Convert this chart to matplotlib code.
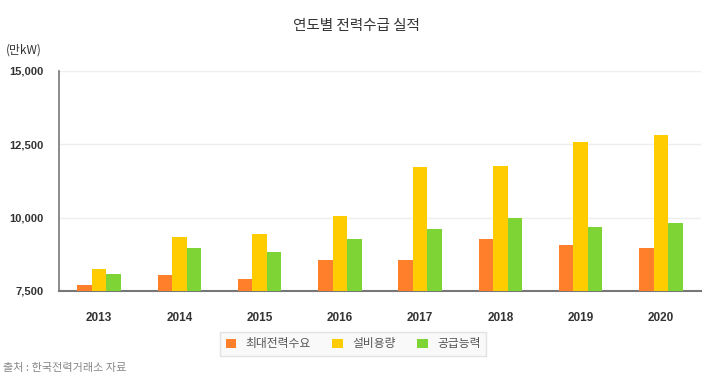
import matplotlib
matplotlib.use("Agg")
from matplotlib import pyplot as plt
from matplotlib.patches import Patch
import numpy as np

plt.rcParams['font.family'] = ['Noto Sans CJK KR', 'DejaVu Sans']

# Data (만kW)
years = ["2013", "2014", "2015", "2016", "2017", "2018", "2019", "2020"]
peak_demand = [7690, 8046, 7896, 8544, 8544, 9273, 9055, 8953]
capacity = [8260, 9341, 9444, 10058, 11715, 11763, 12581, 12830]
supply = [8080, 8977, 8830, 9273, 9625, 9990, 9669, 9805]
series_names = ["최대전력수요", "설비용량", "공급능력"]
colors = ["#FF7F2A", "#FFCC00", "#7ED434"]
yticks = [7500, 10000, 12500, 15000]


def main():
    fig = plt.figure(figsize=(7.1, 3.8), dpi=100)
    ax = fig.add_axes([59 / 710, 1 - 291 / 380, 642 / 710, 220 / 380])

    x = np.arange(len(years))
    width = 0.18
    for i, (vals, col) in enumerate(zip([peak_demand, capacity, supply], colors)):
        ax.bar(x + (i - 1) * width, np.array(vals) - 7500, width, bottom=7500,
               color=col, edgecolor="none", zorder=3)

    ax.set_xlim(-0.5, len(years) - 0.5)
    ax.set_ylim(7500, 15000)
    ax.set_yticks(yticks)
    ax.set_yticklabels([f"{v:,}" for v in yticks], fontsize=8,
                       fontweight="bold", color="#333333",
                       family="Liberation Sans")
    ax.set_xticks(x)
    ax.set_xticklabels(years, fontsize=8.5, fontweight="bold", color="#333333",
                       family="Liberation Sans")
    ax.tick_params(axis="both", length=0)
    ax.tick_params(axis="y", pad=11)
    ax.tick_params(axis="x", pad=15)
    ax.grid(axis="y", color="#EEEEEE", linewidth=1, zorder=0)

    for s in ["top", "right"]:
        ax.spines[s].set_visible(False)
    ax.spines["left"].set_color("#777777")
    ax.spines["bottom"].set_color("#777777")
    ax.spines["left"].set_linewidth(1.2)
    ax.spines["bottom"].set_linewidth(1.5)

    fig.text(356 / 710, 1 - 26 / 380, "연도별 전력수급 실적", ha="center",
             va="center", fontsize=10.5, color="#333333")
    fig.text(6 / 710, 1 - 50 / 380, "(만kW)", ha="left", va="center",
             fontsize=8.5, color="#333333")
    fig.text(3 / 710, 1 - 368 / 380, "출처 : 한국전력거래소 자료", ha="left",
             va="center", fontsize=8, color="#888888")

    handles = [Patch(facecolor=c, edgecolor="none") for c in colors]
    leg = fig.legend(handles, series_names, loc="center",
                     bbox_to_anchor=(353 / 710, 1 - 344 / 380), ncol=3,
                     fontsize=8.5, frameon=True, fancybox=False,
                     handlelength=0.9, handleheight=0.9, columnspacing=1.8,
                     handletextpad=0.8, borderpad=0.5)
    leg.get_frame().set_edgecolor("#DDDDDD")
    leg.get_frame().set_facecolor("#F8F8F8")
    for t in leg.get_texts():
        t.set_color("#555555")

    fig.savefig("out.png", dpi=100)


if __name__ == "__main__":
    main()
